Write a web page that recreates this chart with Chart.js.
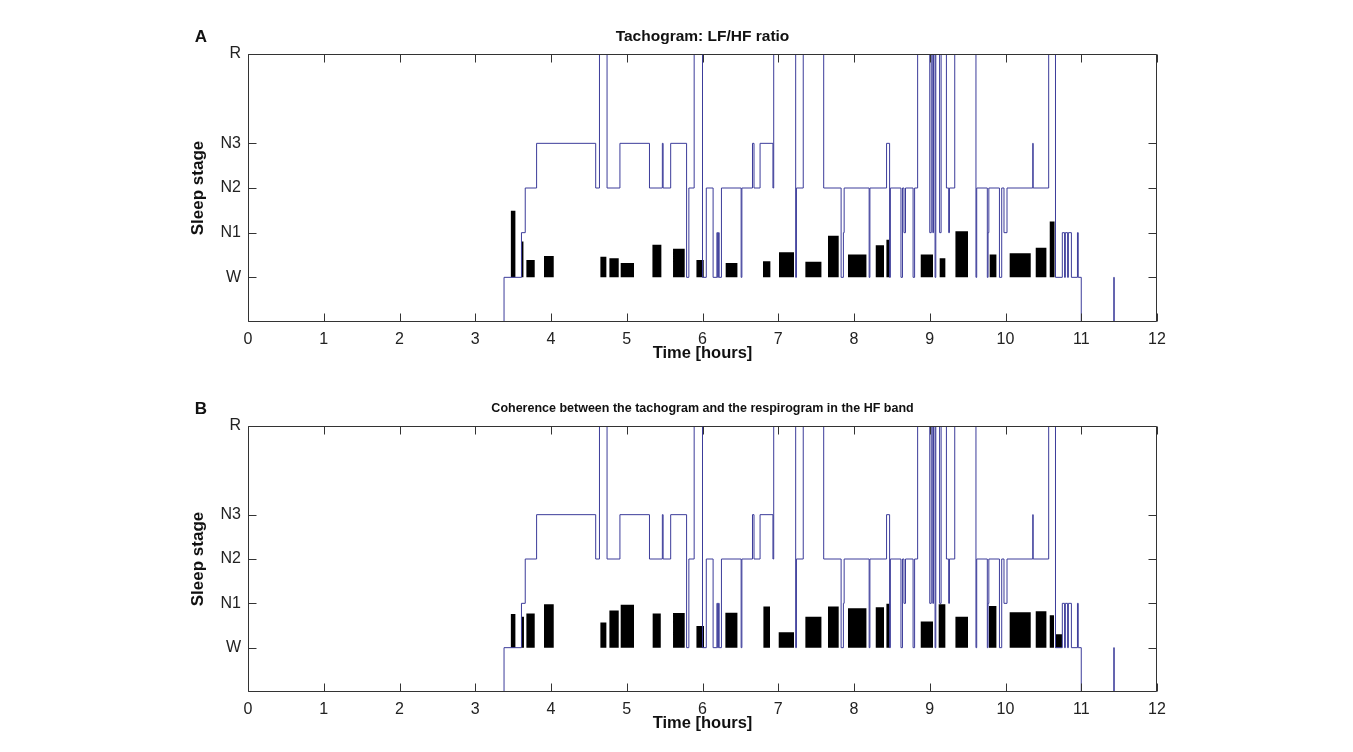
<!DOCTYPE html>
<html>
<head>
<meta charset="utf-8">
<script src="https://cdn.jsdelivr.net/npm/chart.js@4"></script>
<style>
  body { margin: 0; background: #fff; width: 1353px; height: 752px; position: relative; overflow: hidden; }
  canvas { position: absolute; left: 0; }
  #chartA { top: 0; }
  #chartB { top: 372px; }
</style>
</head>
<body>
<canvas id="chartA" width="1353" height="374"></canvas>
<canvas id="chartB" width="1353" height="372"></canvas>
<script>
// axis ticks
const hourTicks = [0, 1, 2, 3, 4, 5, 6, 7, 8, 9, 10, 11, 12];
const stageTicks = [0, 1, 2, 3, 5];
const stageLabels = ['W', 'N1', 'N2', 'N3', 'R'];

// hypnogram (same in both panels): time of each change [hours], new stage
// stage codes: -1 unscored, 0 W, 1 N1, 2 N2, 3 N3, 5 R
const hypTime = [0, 3.38, 3.61, 3.66, 3.81, 4.59, 4.64, 4.74, 4.91, 5.30, 5.47, 5.48, 5.58, 5.79, 5.82, 5.89,
  6.00, 6.05, 6.14, 6.19, 6.20, 6.21, 6.22, 6.25, 6.51, 6.52, 6.66, 6.68, 6.76, 6.93, 6.94, 7.23, 7.24, 7.33,
  7.60, 7.83, 7.86, 7.87, 8.20, 8.21, 8.43, 8.47, 8.48, 8.62, 8.64, 8.66, 8.68, 8.78, 8.80, 8.84,
  9.00, 9.02, 9.04, 9.05, 9.07, 9.08, 9.13, 9.15, 9.22, 9.25, 9.26, 9.33, 9.61, 9.62, 9.76, 9.77, 9.78,
  9.92, 9.95, 9.98, 10.02, 10.36, 10.365, 10.57, 10.66, 10.75, 10.78, 10.79, 10.82, 10.83, 10.87, 10.95,
  10.96, 11.00, 11.43, 11.435, 12];
const hypStage = [-1, 0, 1, 2, 3, 2, 5, 2, 3, 2, 3, 2, 3, 0, 2, 5,
  0, 2, 0, 1, 0, 1, 0, 2, 0, 2, 3, 2, 3, 2, 5, 0, 2, 5,
  2, 0, 1, 2, 0, 2, 3, 0, 2, 0, 2, 1, 2, 0, 2, 5,
  1, 5, 1, 5, 0, 5, 1, 5, 2, 1, 2, 5, 0, 2, 0, 1, 2,
  0, 2, 1, 2, 3, 2, 5, 0, 1, 0, 1, 0, 1, 0, 1,
  0, -1, 0, -1, -1];

// A: LF/HF ratio bars (start, end [hours], height in stage units)
const barStartA = [3.467, 3.609, 3.675, 3.908, 4.652, 4.771, 4.920, 5.339, 5.611, 5.920, 6.306, 6.799, 7.010,
  7.358, 7.657, 7.921, 8.287, 8.428, 8.881, 9.131, 9.339, 9.791, 10.055, 10.399, 10.584];
const barEndA = [3.530, 3.636, 3.785, 4.036, 4.731, 4.894, 5.096, 5.457, 5.765, 6.016, 6.461, 6.896, 7.208,
  7.570, 7.798, 8.164, 8.396, 8.471, 9.043, 9.206, 9.505, 9.880, 10.333, 10.540, 10.650];
const barHeightA = [1.49, 0.80, 0.39, 0.48, 0.46, 0.43, 0.32, 0.73, 0.64, 0.39, 0.32, 0.36, 0.56,
  0.35, 0.93, 0.51, 0.72, 0.84, 0.51, 0.43, 1.03, 0.51, 0.54, 0.66, 1.25];

// B: HF coherence bars
const barStartB = [3.467, 3.609, 3.675, 3.908, 4.652, 4.771, 4.920, 5.342, 5.611, 5.920, 6.302, 6.804, 7.006,
  7.358, 7.657, 7.921, 8.287, 8.428, 8.881, 9.118, 9.339, 9.782, 10.055, 10.399, 10.584, 10.659];
const barEndB = [3.530, 3.643, 3.785, 4.036, 4.731, 4.894, 5.096, 5.449, 5.765, 6.020, 6.461, 6.891, 7.208,
  7.570, 7.798, 8.164, 8.396, 8.471, 9.043, 9.206, 9.505, 9.880, 10.333, 10.540, 10.640, 10.746];
const barHeightB = [0.76, 0.70, 0.77, 0.98, 0.57, 0.84, 0.97, 0.77, 0.78, 0.49, 0.79, 0.93, 0.35,
  0.70, 0.93, 0.89, 0.91, 0.99, 0.59, 0.98, 0.70, 0.94, 0.80, 0.82, 0.73, 0.30];

const FONT = 'Liberation Sans, Arial, Helvetica, sans-serif';
const AXIS = '#333';

function hypPoints() {
  return hypTime.map((t, i) => ({ x: t, y: hypStage[i] }));
}

function barPoints(start, end, height) {
  const pts = [];
  start.forEach((s, i) => {
    pts.push({ x: s, y: 0 }, { x: s, y: height[i] }, { x: end[i], y: height[i] }, { x: end[i], y: 0 });
  });
  return pts;
}

// box, inward ticks and panel titles (matlab look)
const panelText = {
  id: 'panelText',
  afterDatasetsDraw(chart, args, opts) {
    const { ctx, chartArea: a, scales: { x, y } } = chart;
    const L = Math.round(a.left) + 0.5, R = Math.round(a.right) - 0.5;
    const T = Math.round(a.top) + 0.5, B = Math.round(a.bottom) - 0.5;
    ctx.save();
    ctx.strokeStyle = AXIS;
    ctx.lineWidth = 1;
    ctx.beginPath();
    ctx.rect(L, T, R - L, B - T);
    hourTicks.forEach(v => {
      const px = Math.round(x.getPixelForValue(v)) + 0.5;
      ctx.moveTo(px, B); ctx.lineTo(px, B - 8);
      ctx.moveTo(px, T); ctx.lineTo(px, T + 8);
    });
    stageTicks.forEach(v => {
      const py = Math.round(y.getPixelForValue(v)) + 0.5;
      ctx.moveTo(L, py); ctx.lineTo(L + 8, py);
      ctx.moveTo(R, py); ctx.lineTo(R - 8, py);
    });
    ctx.stroke();

    ctx.fillStyle = '#111';
    ctx.textBaseline = 'middle';
    ctx.textAlign = 'center';
    ctx.font = 'bold ' + opts.titleSize + 'px ' + FONT;
    ctx.fillText(opts.title, (a.left + a.right) / 2, a.top - 17);
    ctx.font = 'bold 17px ' + FONT;
    ctx.fillText(opts.letter, 201, a.top - 17);
    ctx.restore();
  }
};

function makeChart(id, letter, title, titleSize, bs, be, bh) {
  return new Chart(document.getElementById(id), {
    type: 'line',
    data: {
      datasets: [
        { data: hypPoints(), stepped: 'before', borderColor: '#3c3c9a', borderWidth: 1,
          pointRadius: 0, fill: false, order: 0 },
        { data: barPoints(bs, be, bh), borderWidth: 0, borderColor: '#000', backgroundColor: '#000',
          pointRadius: 0, fill: { value: 0 }, order: 1 }
      ]
    },
    options: {
      responsive: false,
      animation: false,
      events: [],
      layout: { padding: { left: 180, right: 196, top: 54, bottom: 0 } },
      plugins: {
        legend: { display: false },
        tooltip: { enabled: false },
        panelText: { letter: letter, title: title, titleSize: titleSize }
      },
      scales: {
        x: {
          type: 'linear', min: 0, max: 12,
          afterBuildTicks: s => { s.ticks = hourTicks.map(v => ({ value: v })); },
          grid: { display: false, drawTicks: false },
          border: { display: false },
          ticks: { padding: 8, color: '#222', font: { family: FONT, size: 16 } },
          title: { display: true, text: 'Time [hours]', color: '#111',
            font: { family: FONT, size: 16.5, weight: 'bold' }, padding: { top: 0, bottom: 11 } },
          afterFit: s => { s.height = 52; }
        },
        y: {
          type: 'linear', min: -1, max: 5,
          afterBuildTicks: s => { s.ticks = stageTicks.map(v => ({ value: v })); },
          grid: { display: false, drawTicks: false },
          border: { display: false },
          ticks: { padding: 7, color: '#222', font: { family: FONT, size: 16 },
            callback: v => stageLabels[stageTicks.indexOf(v)] },
          title: { display: true, text: 'Sleep stage', color: '#111',
            font: { family: FONT, size: 17, weight: 'bold' }, padding: { top: 8, bottom: 0 } },
          afterFit: s => { s.width = 68; }
        }
      }
    },
    plugins: [panelText]
  });
}

makeChart('chartA', 'A', 'Tachogram: LF/HF ratio', 15.5, barStartA, barEndA, barHeightA);
makeChart('chartB', 'B', 'Coherence between the tachogram and the respirogram in the HF band', 12.5, barStartB, barEndB, barHeightB);
</script>
</body>
</html>
